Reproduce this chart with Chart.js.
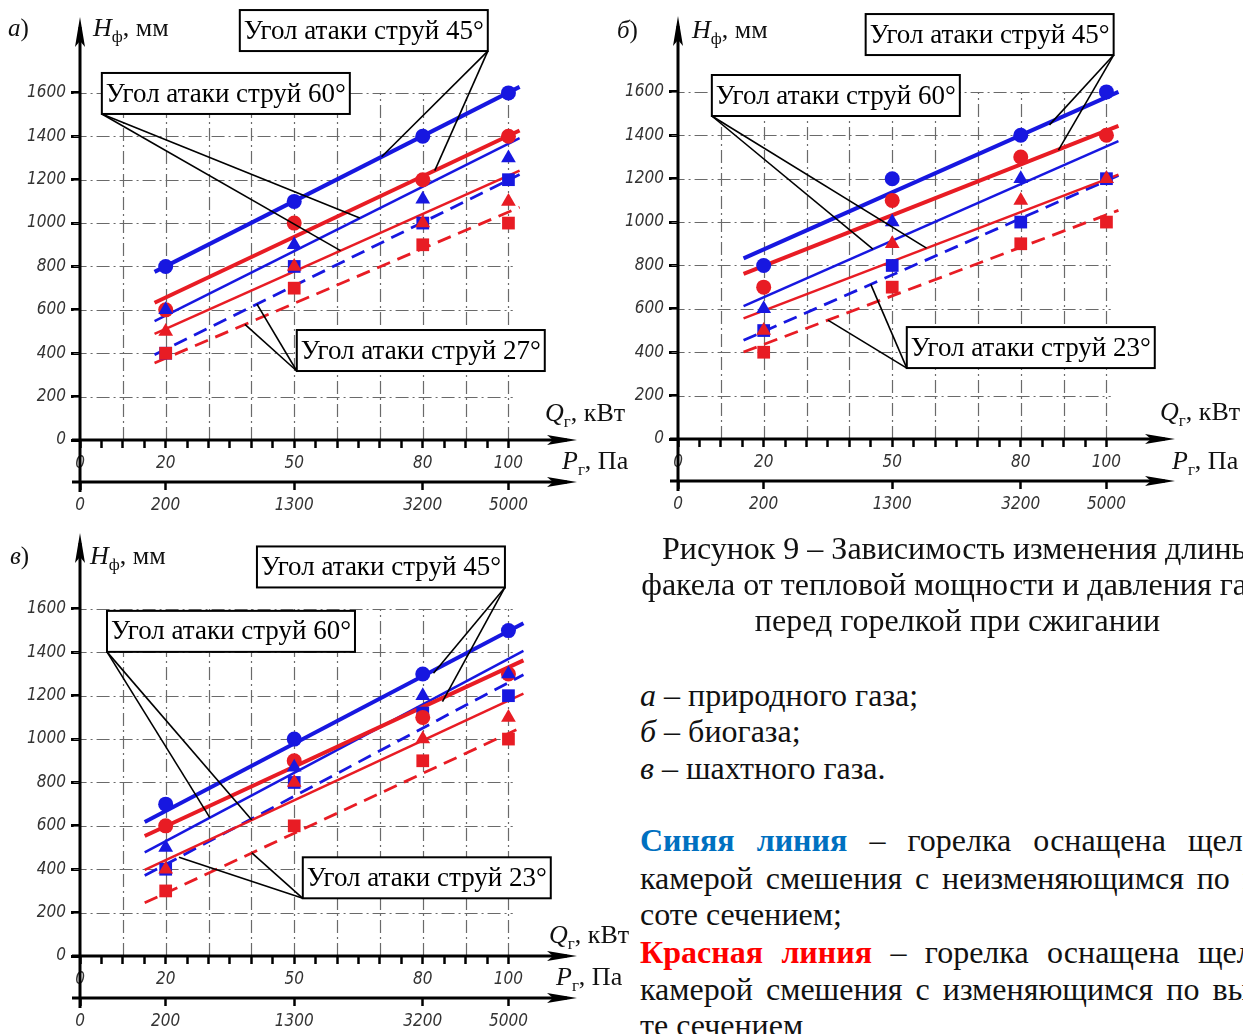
<!DOCTYPE html>
<html lang="ru">
<head>
<meta charset="utf-8">
<script src="https://cdn.jsdelivr.net/npm/chart.js@4.4.1/dist/chart.umd.min.js"></script>
<style>
  html, body { margin: 0; padding: 0; background: #fff; }
  body { width: 1243px; height: 1034px; position: relative; overflow: hidden;
         font-family: "Liberation Serif", "Times New Roman", serif; color: #111; }
  canvas { position: absolute; }
  .txt { position: absolute; white-space: nowrap; font-size: 32px; line-height: 36px; }
  .cap { left: 640px; width: 635px; text-align: center; }
  .just { left: 640px; width: 665px; text-align: justify; text-align-last: justify; }
  .left { left: 640px; }
  .blue { color: #0070c0; font-weight: bold; }
  .red { color: #ff0000; font-weight: bold; }
</style>
</head>
<body>
<canvas id="chartA" width="640" height="520" style="left:0;top:0"></canvas>
<canvas id="chartB" width="645" height="520" style="left:598px;top:-1px"></canvas>
<canvas id="chartC" width="640" height="520" style="left:0;top:516px"></canvas>

<div class="txt cap" style="top:530px">Рисунок 9 – Зависимость изменения длины</div>
<div class="txt cap" style="top:566px">факела от тепловой мощности и давления газа</div>
<div class="txt cap" style="top:602px">перед горелкой при сжигании</div>

<div class="txt left" style="top:677px"><i>а</i> – природного газа;</div>
<div class="txt left" style="top:713px"><i>б</i> – биогаза;</div>
<div class="txt left" style="top:750px"><i>в</i> – шахтного газа.</div>

<div class="txt just" style="top:822px"><span class="blue">Синяя линия</span> – горелка оснащена щелевой</div>
<div class="txt just" style="top:860px;width:650px">камерой смешения с неизменяющимся по вы-</div>
<div class="txt left" style="top:896px">соте сечением;</div>
<div class="txt just" style="top:934px;width:675px"><span class="red">Красная линия</span> – горелка оснащена щелевой</div>
<div class="txt just" style="top:971px;width:650px">камерой смешения с изменяющимся по высо-</div>
<div class="txt left" style="top:1007px">те сечением</div>

<script>
// общие оси
const qValues = [20, 50, 80, 100];
const qTickValues = [0, 5, 10, 15, 20, 25, 30, 35, 40, 45, 50, 55, 60, 65, 70, 75, 80, 85, 90, 95, 100];
const qLabelValues = [0, 20, 50, 80, 100];
const pLabels = ['0', '200', '1300', '3200', '5000'];
const hTickValues = [0, 200, 400, 600, 800, 1000, 1200, 1400, 1600];
const qGrid = [10, 20, 30, 40, 50, 60, 70, 80, 90, 100];
const hGrid = [200, 400, 600, 800, 1000, 1200, 1400, 1600];

// а) природный газ
const aBlueCircle = [800, 1100, 1400, 1600];
const aRedCircle = [600, 1000, 1200, 1400];
const aBlueTriangle = [600, 900, 1110, 1300];
const aRedTriangle = [500, 800, 1000, 1100];
const aBlueSquare = [400, 800, 1000, 1200];
const aRedSquare = [400, 700, 900, 1000];
const aLineQ = [17.4, 102.6];
const aBlueThick = [775, 1628];
const aRedThick = [633, 1427];
const aBlueThin = [548, 1392];
const aRedThin = [489, 1242];
const aBlueDash = [393, 1224];
const aRedDash = [355, 1073];

// б) биогаз
const bBlueCircle = [800, 1200, 1400, 1600];
const bRedCircle = [700, 1100, 1300, 1400];
const bBlueTriangle = [600, 1000, 1200, 1200];
const bRedTriangle = [500, 900, 1100, 1200];
const bBlueSquare = [500, 800, 1000, 1200];
const bRedSquare = [400, 700, 900, 1000];
const bLineQ = [15.3, 102.8];
const bBlueThick = [833, 1600];
const bRedThick = [761, 1443];
const bBlueThin = [613, 1373];
const bRedThin = [556, 1219];
const bBlueDash = [455, 1215];
const bRedDash = [401, 1054];

// в) шахтный газ
const cBlueCircle = [700, 1000, 1300, 1500];
const cRedCircle = [600, 900, 1100, 1300];
const cBlueTriangle = [500, 870, 1200, 1300];
const cRedTriangle = [400, 800, 1000, 1100];
const cBlueSquare = [400, 800, 1120, 1200];
const cRedSquare = [300, 600, 900, 1000];
const cLineQ = [15.1, 103.5];
const cBlueThick = [618, 1534];
const cRedThick = [553, 1363];
const cBlueThin = [478, 1407];
const cRedThin = [397, 1210];
const cBlueDash = [371, 1297];
const cRedDash = [245, 1058];

const BLUE = '#1717e0';
const RED = '#e81c24';
const tickFont = { family: '"Liberation Sans Narrow", "DejaVu Sans Condensed", sans-serif', style: 'italic', size: 17 };

const panels = [
  {
    id: 'chartA', letter: 'а', padRight: 63,
    lineQ: aLineQ,
    points: [aRedTriangle, aBlueTriangle, aRedCircle, aBlueCircle, aRedSquare, aBlueSquare],
    lines: [aBlueThick, aRedThick, aBlueThin, aRedThin, aBlueDash, aRedDash],
    letterPos: [8, 36], hPos: [93, 36], qPos: [545, 421], pPos: [562, 469],
    notes: [
      { text: 'Угол атаки струй 45°', q: 37.3, h: 1982, corner: 'br', to: [[70.4, 1306], [82.8, 1242]] },
      { text: 'Угол атаки струй 60°', q: 5.1, h: 1692, corner: 'bl', to: [[65.3, 1023], [60.8, 873]] },
      { text: 'Угол атаки струй 27°', q: 50.6, h: 507, corner: 'bl', to: [[41.3, 626], [38.5, 533]] }
    ]
  },
  {
    id: 'chartB', letter: 'б', padRight: 68,
    lineQ: bLineQ,
    points: [bRedTriangle, bBlueTriangle, bRedCircle, bBlueCircle, bRedSquare, bBlueSquare],
    lines: [bBlueThick, bRedThick, bBlueThin, bRedThin, bBlueDash, bRedDash],
    letterPos: [19, 39], hPos: [94, 39], qPos: [562, 421], pPos: [574, 470],
    notes: [
      { text: 'Угол атаки струй 45°', q: 43.8, h: 1959, corner: 'br', to: [[86.7, 1448], [88.8, 1332]] },
      { text: 'Угол атаки струй 60°', q: 7.9, h: 1678, corner: 'bl', to: [[45.5, 875], [58, 880]] },
      { text: 'Угол атаки струй 23°', q: 53.4, h: 516, corner: 'bl', to: [[45, 713], [35, 548]] }
    ]
  },
  {
    id: 'chartC', letter: 'в', padRight: 63,
    lineQ: cLineQ,
    points: [cRedTriangle, cBlueTriangle, cRedCircle, cBlueCircle, cRedSquare, cBlueSquare],
    lines: [cBlueThick, cRedThick, cBlueThin, cRedThin, cBlueDash, cRedDash],
    letterPos: [10, 48], hPos: [90, 48], qPos: [549, 427], pPos: [556, 469],
    notes: [
      { text: 'Угол атаки струй 45°', q: 41.3, h: 1888, corner: 'br', to: [[82.5, 1303], [84.6, 1173]] },
      { text: 'Угол атаки струй 60°', q: 6.3, h: 1591, corner: 'bl', to: [[30.3, 638], [40.1, 627]] },
      { text: 'Угол атаки струй 23°', q: 52, h: 455, corner: 'bl', to: [[23.1, 455], [40.1, 475]] }
    ]
  }
];

// порядок маркеров: первый рисуется сверху
const pointStyles = [
  { color: RED, style: 'triangle', r: 8.5 },
  { color: BLUE, style: 'triangle', r: 8.5 },
  { color: RED, style: 'circle', r: 7.5 },
  { color: BLUE, style: 'circle', r: 7.5 },
  { color: RED, style: 'rect', r: 9 },
  { color: BLUE, style: 'rect', r: 9 }
];
const lineStyles = [
  { color: BLUE, width: 4, dash: [] },
  { color: RED, width: 4, dash: [] },
  { color: BLUE, width: 2.5, dash: [] },
  { color: RED, width: 2.5, dash: [] },
  { color: BLUE, width: 2.8, dash: [14, 8] },
  { color: RED, width: 2.8, dash: [14, 8] }
];

function buildDatasets(p) {
  const ds = [];
  p.points.forEach((vals, i) => {
    const st = pointStyles[i];
    ds.push({
      data: qValues.map((q, k) => ({ x: q, y: vals[k] })),
      showLine: false, order: 1,
      pointStyle: st.style, pointRadius: st.r,
      backgroundColor: st.color, borderColor: st.color, borderWidth: 0
    });
  });
  p.lines.forEach((vals, i) => {
    const st = lineStyles[i];
    ds.push({
      data: p.lineQ.map((q, k) => ({ x: q, y: vals[k] })),
      showLine: true, order: 2, pointRadius: 0,
      borderColor: st.color, borderWidth: st.width, borderDash: st.dash
    });
  });
  return ds;
}

function arrow(ctx, x1, y1, x2, y2) {
  // линия с наконечником в точке (x2, y2)
  const ang = Math.atan2(y2 - y1, x2 - x1);
  const len = 30, hw = 5;
  ctx.beginPath();
  ctx.moveTo(x1, y1);
  ctx.lineTo(x2 - Math.cos(ang) * 10, y2 - Math.sin(ang) * 10);
  ctx.stroke();
  ctx.beginPath();
  ctx.moveTo(x2, y2);
  ctx.lineTo(x2 - Math.cos(ang) * len - Math.sin(ang) * hw, y2 - Math.sin(ang) * len + Math.cos(ang) * hw);
  ctx.lineTo(x2 - Math.cos(ang) * len * 0.8, y2 - Math.sin(ang) * len * 0.8);
  ctx.lineTo(x2 - Math.cos(ang) * len + Math.sin(ang) * hw, y2 - Math.sin(ang) * len - Math.cos(ang) * hw);
  ctx.closePath();
  ctx.fill();
}

function subLabel(ctx, x, y, main, sub, rest) {
  ctx.textAlign = 'left';
  ctx.textBaseline = 'alphabetic';
  ctx.font = 'italic 26px "Liberation Serif"';
  ctx.fillText(main, x, y);
  x += ctx.measureText(main).width;
  ctx.font = '17px "Liberation Serif"';
  ctx.fillText(sub, x, y + 6);
  x += ctx.measureText(sub).width;
  ctx.font = '26px "Liberation Serif"';
  ctx.fillText(rest, x, y);
}

function figurePlugin(p) {
  return {
    id: 'figure',
    beforeDatasetsDraw(chart) {
      const { ctx, scales: { x, y } } = chart;
      ctx.save();
      ctx.strokeStyle = '#6a6a6a';
      ctx.lineWidth = 1.2;
      ctx.setLineDash([13, 4, 2, 4]);
      qGrid.forEach(q => {
        const px = Math.round(x.getPixelForValue(q)) + 0.5;
        ctx.beginPath();
        ctx.moveTo(px, y.getPixelForValue(0));
        ctx.lineTo(px, y.getPixelForValue(1600));
        ctx.stroke();
      });
      hGrid.forEach(h => {
        const py = Math.round(y.getPixelForValue(h)) + 0.5;
        ctx.beginPath();
        ctx.moveTo(x.getPixelForValue(-1.5), py);
        ctx.lineTo(x.getPixelForValue(101), py);
        ctx.stroke();
      });
      ctx.restore();
    },
    afterDatasetsDraw(chart) {
      const { ctx, chartArea, scales: { x, y, x2 } } = chart;
      const L = chartArea.left, B = chartArea.bottom, T = chartArea.top, R = chartArea.right;
      const pY = x2.top;
      ctx.save();
      ctx.strokeStyle = '#000';
      ctx.fillStyle = '#000';
      ctx.lineWidth = 3;
      ctx.setLineDash([]);
      arrow(ctx, L, pY + 10, L, T);
      arrow(ctx, L - 8, B, R, B);
      arrow(ctx, L - 8, pY, R, pY);

      // подписи-выноски
      p.notes.forEach(n => {
        ctx.font = '27px "Liberation Serif"';
        const w = ctx.measureText(n.text).width + 8, h = 41;
        const bx = x.getPixelForValue(n.q), by = y.getPixelForValue(n.h);
        const ox = n.corner === 'br' ? bx + w : bx, oy = by + h;
        ctx.lineWidth = 1.6;
        ctx.strokeStyle = '#000';
        n.to.forEach(t => {
          ctx.beginPath();
          ctx.moveTo(ox, oy);
          ctx.lineTo(x.getPixelForValue(t[0]), y.getPixelForValue(t[1]));
          ctx.stroke();
        });
        ctx.fillStyle = '#fff';
        ctx.fillRect(bx, by, w, h);
        ctx.lineWidth = 2;
        ctx.strokeRect(bx, by, w, h);
        ctx.fillStyle = '#000';
        ctx.textAlign = 'left';
        ctx.textBaseline = 'middle';
        ctx.fillText(n.text, bx + 4, by + h / 2 + 1);
      });

      // буква панели и названия осей
      ctx.fillStyle = '#111';
      ctx.textBaseline = 'alphabetic';
      ctx.font = 'italic 25px "Liberation Serif"';
      ctx.fillText(p.letter, p.letterPos[0], p.letterPos[1]);
      const lw = ctx.measureText(p.letter).width;
      ctx.font = '25px "Liberation Serif"';
      ctx.fillText(')', p.letterPos[0] + lw, p.letterPos[1]);
      subLabel(ctx, p.hPos[0], p.hPos[1], 'H', 'ф', ', мм');
      subLabel(ctx, p.qPos[0], p.qPos[1], 'Q', 'г', ', кВт');
      subLabel(ctx, p.pPos[0], p.pPos[1], 'P', 'г', ', Па');
      ctx.restore();
    }
  };
}

function makeChart(p) {
  const ctx = document.getElementById(p.id).getContext('2d');
  return new Chart(ctx, {
    type: 'scatter',
    data: { datasets: buildDatasets(p) },
    options: {
      animation: false,
      responsive: false,
      layout: { padding: { top: 17, right: p.padRight, left: 0, bottom: 0 } },
      plugins: { legend: { display: false }, tooltip: { enabled: false } },
      scales: {
        x: {
          type: 'linear', position: 'bottom', min: 0, max: 116,
          afterBuildTicks: s => { s.ticks = qTickValues.map(v => ({ value: v })); },
          afterFit: s => { s.height = 42; },
          ticks: {
            autoSkip: false, maxRotation: 0, padding: 5, color: '#333', font: tickFont,
            callback: v => qLabelValues.includes(v) ? String(v) : ''
          },
          grid: { drawOnChartArea: false, tickLength: 8, tickWidth: 2.5, tickColor: '#000' },
          border: { display: false }
        },
        x2: {
          type: 'linear', position: 'bottom', min: 0, max: 116,
          afterBuildTicks: s => { s.ticks = qLabelValues.map(v => ({ value: v })); },
          afterFit: s => { s.height = 38; },
          ticks: {
            autoSkip: false, maxRotation: 0, padding: 5, color: '#333', font: tickFont,
            callback: v => pLabels[qLabelValues.indexOf(v)]
          },
          grid: { drawOnChartArea: false, tickLength: 8, tickWidth: 2.5, tickColor: '#000' },
          border: { display: false }
        },
        y: {
          type: 'linear', min: 0, max: 1950,
          afterBuildTicks: s => { s.ticks = hTickValues.map(v => ({ value: v })); },
          afterFit: s => { s.width = 80; },
          ticks: { autoSkip: false, padding: 5, color: '#333', font: tickFont, callback: v => String(v) },
          grid: { drawOnChartArea: false, tickLength: 9, tickWidth: 3, tickColor: '#000' },
          border: { display: false }
        }
      }
    },
    plugins: [figurePlugin(p)]
  });
}

panels.forEach(makeChart);
</script>
</body>
</html>
